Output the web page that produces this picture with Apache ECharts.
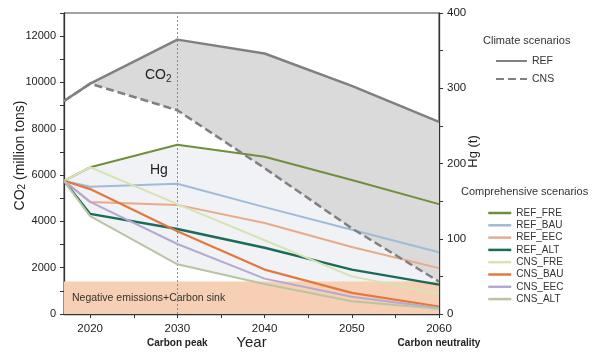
<!DOCTYPE html>
<html><head><meta charset="utf-8">
<script src="https://cdn.jsdelivr.net/npm/echarts@6/dist/echarts.min.js"></script>
<style>html,body{margin:0;padding:0;background:#fff}#c{width:600px;height:357px}</style>
</head><body><div id="c"></div>
<script>
// ---- data ----
const years = [2017, 2020, 2030, 2040, 2050, 2060];
const co2Ref = [9200, 9950, 11850, 11250, 9850, 8300];
const co2Cns = [9200, 9950, 8800, 6300, 3700, 1400];
const hgNames = ['REF_FRE', 'REF_BAU', 'REF_EEC', 'REF_ALT', 'CNS_FRE', 'CNS_BAU', 'CNS_EEC', 'CNS_ALT'];
const hgRefFre = [177, 195, 225, 209, 178, 146];
const hgRefBau = [177, 169, 173, 142, 112, 82];
const hgRefEec = [177, 149, 145, 121, 89, 61];
const hgRefAlt = [177, 133, 113, 88, 59, 39];
const hgCnsFre = [177, 195, 146, 98, 50, 27];
const hgCnsBau = [177, 166, 110, 59, 28, 10];
const hgCnsEec = [177, 149, 93, 47, 23, 8];
const hgCnsAlt = [177, 130, 66, 40, 17, 7];
const sinkBand = [0, 1400];
const co2TickLabels = [0, 2000, 4000, 6000, 8000, 10000, 12000];
const hgTickLabels = [0, 100, 200, 300, 400];
const yearTickLabels = [2020, 2030, 2040, 2050, 2060];
const yearTicks = [2020, 2025, 2030, 2035, 2040, 2045, 2050, 2055, 2060];
const yearNotes = {2030: 'Carbon peak', 2060: 'Carbon neutrality'};
const peakYear = 2030;

// ---- build ----
const hgValues = [hgRefFre, hgRefBau, hgRefEec, hgRefAlt, hgCnsFre, hgCnsBau, hgCnsEec, hgCnsAlt];
const hgColors = ['#6f8f3a', '#a0bbd9', '#e8aa8a', '#1c6b5a', '#d6e4b4', '#e2783f', '#b3a9d3', '#b9c4a3'];
const hgWidths = [2, 2, 2, 2.4, 2, 2.2, 2, 2];
const hgUpper = years.map((_, i) => Math.max(...hgValues.map(a => a[i])));
const hgLower = years.map((_, i) => Math.min(...hgValues.map(a => a[i])));
const pairs = arr => years.map((y, i) => [y, arr[i]]);
const FONT = '"Liberation Sans", Arial, sans-serif';
const plain = v => String(v);

function bandSeries(upper, lower, yAxisIndex, fill, z) {
  return {
    type: 'custom', yAxisIndex: yAxisIndex, z: z, silent: true, clip: false,
    data: [[years[0], lower[0]]],
    renderItem: function (params, api) {
      const pts = [];
      for (let i = 0; i < years.length; i++) pts.push(api.coord([years[i], upper[i]]));
      for (let i = years.length - 1; i >= 0; i--) pts.push(api.coord([years[i], lower[i]]));
      return {type: 'polygon', shape: {points: pts}, style: {fill: fill}};
    }
  };
}

const series = [];
series.push(bandSeries(hgUpper, hgLower, 1, '#f0f2f5', 1));
series.push({
  type: 'custom', yAxisIndex: 0, z: 2, silent: true, clip: false,
  data: [[years[0], sinkBand[0]]],
  renderItem: function (params, api) {
    const p0 = api.coord([years[0], sinkBand[1]]);
    const p1 = api.coord([years[years.length - 1], sinkBand[0]]);
    return {type: 'group', children: [
      {type: 'rect', shape: {x: p0[0], y: p0[1], width: p1[0] - p0[0], height: p1[1] - p0[1]}, style: {fill: '#f6cfb4'}},
      {type: 'text', style: {text: 'Negative emissions+Carbon sink', x: p0[0] + 8, y: (p0[1] + p1[1]) / 2,
        verticalAlign: 'middle', fill: '#333', font: '10.5px ' + FONT}}
    ]};
  }
});
series.push(bandSeries(co2Ref, co2Cns, 0, '#dadada', 2));

hgNames.forEach((n, k) => {
  series.push({
    name: n, type: 'line', yAxisIndex: 1, z: 5, symbol: 'none', silent: true,
    data: pairs(hgValues[k]),
    lineStyle: {color: hgColors[k], width: hgWidths[k]},
    itemStyle: {color: hgColors[k]}
  });
});
series.push({
  name: 'REF', type: 'line', yAxisIndex: 0, z: 6, symbol: 'none', silent: true,
  data: pairs(co2Ref),
  lineStyle: {color: '#808080', width: 2.5}, itemStyle: {color: '#808080'},
  markLine: {silent: true, symbol: ['none', 'none'], label: {show: false},
    lineStyle: {type: [2, 2], color: '#8a8a8a', width: 1}, data: [{xAxis: peakYear}]}
});
series.push({
  name: 'CNS', type: 'line', yAxisIndex: 0, z: 6, symbol: 'none', silent: true,
  data: pairs(co2Cns),
  lineStyle: {color: '#808080', width: 2.5, type: [8, 4]}, itemStyle: {color: '#808080'}
});

const chart = echarts.init(document.getElementById('c'), null, {renderer: 'canvas'});
chart.setOption({
  animation: false,
  backgroundColor: '#fff',
  textStyle: {fontFamily: FONT},
  grid: {left: 64, right: 161, top: 13, bottom: 43, show: true, borderColor: '#444', borderWidth: 1,
    outerBoundsMode: 'none', containLabel: false},
  title: [
    {text: 'Climate scenarios', left: 483, top: 35, padding: 0, textStyle: {fontSize: 11, fontWeight: 'normal', color: '#333', fontFamily: FONT}},
    {text: 'Comprehensive scenarios', left: 461, top: 186, padding: 0, textStyle: {fontSize: 11, fontWeight: 'normal', color: '#333', fontFamily: FONT}}
  ],
  legend: [
    {data: ['REF', 'CNS'], orient: 'vertical', left: 495, top: 54, padding: 0, itemWidth: 31, itemHeight: 14, itemGap: 4,
      selectedMode: false, itemStyle: {opacity: 0}, textStyle: {fontSize: 10.5, color: '#333', lineHeight: 14}},
    {data: hgNames, orient: 'vertical', left: 487, top: 207, padding: 0, itemWidth: 23, itemHeight: 12, itemGap: 0.3,
      selectedMode: false, itemStyle: {opacity: 0}, lineStyle: {width: 2.5}, textStyle: {fontSize: 10, color: '#333', lineHeight: 12}}
  ],
  xAxis: {
    type: 'value', min: years[0], max: years[years.length - 1],
    axisLine: {show: true, onZero: false, lineStyle: {color: '#333', width: 1.3}},
    axisTick: {show: true, length: 4, customValues: yearTicks, lineStyle: {color: '#333'}},
    axisLabel: {customValues: yearTickLabels, margin: 8, fontSize: 11.5, color: '#222', lineHeight: 14,
      formatter: function (v) { return yearNotes[v] ? v + '\n{b|' + yearNotes[v] + '}' : String(v); },
      rich: {b: {fontWeight: 'bold', fontSize: 10, lineHeight: 14, color: '#222'}}},
    splitLine: {show: false},
    name: 'Year', nameLocation: 'middle', nameGap: 21, nameMoveOverlap: false,
    nameTextStyle: {fontSize: 15, color: '#222'}
  },
  yAxis: [
    {type: 'value', min: 0, max: 13000, interval: 1000, position: 'left',
      axisLine: {show: true, onZero: false, lineStyle: {color: '#333', width: 1.3}},
      axisTick: {show: true, length: 4, lineStyle: {color: '#333'}},
      axisLabel: {customValues: co2TickLabels, formatter: plain, margin: 8, fontSize: 11, color: '#222'},
      splitLine: {show: false},
      name: '{a|CO}{s|2}{a| (million tons)}', nameLocation: 'middle', nameGap: 37, nameMoveOverlap: false,
      nameTextStyle: {fontSize: 14, color: '#222', padding: [0, 0, 0, 16],
        rich: {a: {fontSize: 14, color: '#222'}, s: {fontSize: 10, color: '#222', verticalAlign: 'bottom'}}}},
    {type: 'value', min: 0, max: 400, interval: 50, position: 'right',
      axisLine: {show: true, onZero: false, lineStyle: {color: '#333', width: 1.3}},
      axisTick: {show: true, length: 4, lineStyle: {color: '#333'}},
      axisLabel: {customValues: hgTickLabels, formatter: plain, margin: 8, fontSize: 11.5, color: '#222'},
      splitLine: {show: false},
      name: 'Hg (t)', nameLocation: 'middle', nameGap: 28, nameMoveOverlap: false,
      nameTextStyle: {fontSize: 13, color: '#222', padding: [0, 0, 0, 24]}}
  ],
  graphic: [
    {type: 'text', left: 145, top: 68, z: 10, silent: true,
      style: {text: '{a|CO}{s|2}', rich: {a: {fontSize: 14, fill: '#222', fontFamily: FONT}, s: {fontSize: 10, fill: '#222', fontFamily: FONT, padding: [8, 0, 0, 0]}}}},
    {type: 'text', left: 150, top: 163, z: 10, silent: true,
      style: {text: 'Hg', fontSize: 14, fill: '#222', fontFamily: FONT}}
  ],
  series: series
});
</script>
</body></html>
